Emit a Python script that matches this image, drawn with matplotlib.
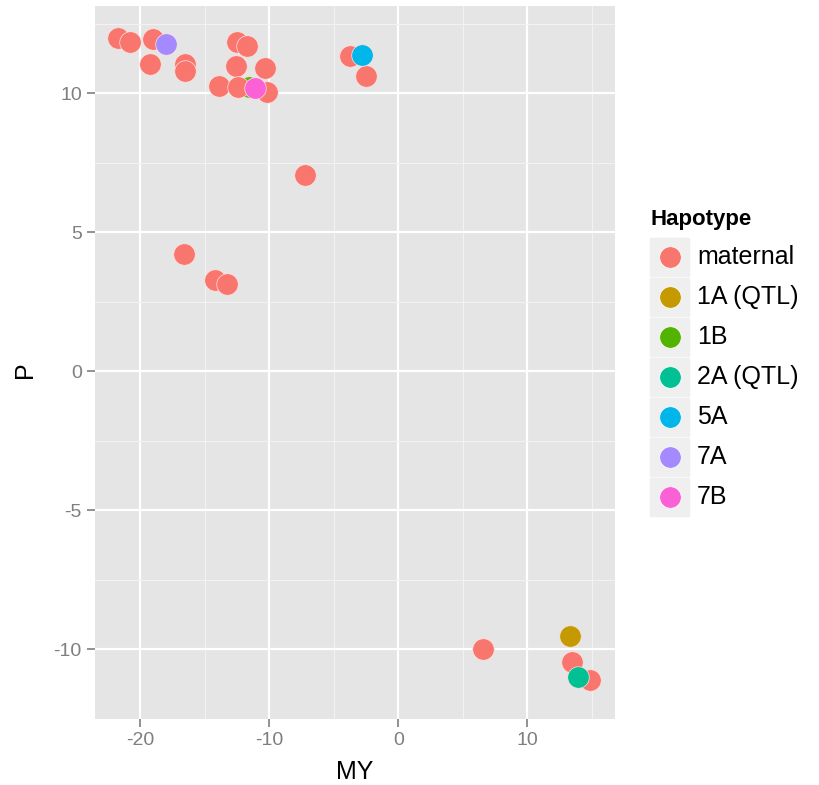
import matplotlib.pyplot as plt

plt.rcParams['font.family'] = ['Liberation Sans', 'DejaVu Sans']
plt.rcParams['axes.unicode_minus'] = False

# haplotype levels and ggplot default hue colours
levels = ['maternal', '1A (QTL)', '1B', '2A (QTL)', '5A', '7A', '7B']
colors = ['#F8766D', '#C49A00', '#53B400', '#00C094', '#00B6EB', '#A58AFF', '#FB61D7']

# points (MY, P, haplotype)
my = [-21.7, -20.8, -19.0, -19.2, -16.5, -16.5, -13.9, -12.5, -11.7, -12.6,
      -10.3, -12.4, -10.2, -3.7, -2.5, -7.2, -16.6, -14.2, -13.3,
      6.6, 13.5, 14.9,
      -11.6, 13.3, 13.9, -2.8, -18.0, -11.1]
p = [11.99, 11.83, 11.95, 11.06, 11.04, 10.82, 10.26, 11.83, 11.69, 10.98,
     10.92, 10.24, 10.05, 11.33, 10.62, 7.05, 4.21, 3.30, 3.16,
     -9.98, -10.45, -11.10,
     10.24, -9.50, -10.99, 11.37, 11.79, 10.20]
hap = ['maternal'] * 22 + ['1B', '1A (QTL)', '2A (QTL)', '5A', '7A', '7B']

fig = plt.figure(figsize=(8.19, 7.85), dpi=100)
ax = fig.add_axes([95 / 819, 1 - 719 / 785, 520 / 819, 713 / 785])
ax.set_facecolor('#E5E5E5')

ax.set_xlim(-23.5, 16.8)
ax.set_ylim(-12.32, 13.14)
ax.set_xticks([-20, -10, 0, 10])
ax.set_yticks([-10, -5, 0, 5, 10])
ax.set_xticks([-15, -5, 5, 15], minor=True)
ax.set_yticks([-12.5, -7.5, -2.5, 2.5, 7.5, 12.5], minor=True)
ax.grid(which='major', color='white', linewidth=1.6)
ax.grid(which='minor', color='#F2F2F2', linewidth=0.8)
ax.set_axisbelow(True)
for s in ax.spines.values():
    s.set_visible(False)
ax.tick_params(which='major', colors='#7F7F7F', labelsize=14, length=6, width=1.2)
ax.tick_params(which='minor', length=0)

# 1B point drawn first, it sits under the maternal / 7B points
order = ['1B', 'maternal', '1A (QTL)', '2A (QTL)', '5A', '7A', '7B']
for lev in order:
    col = colors[levels.index(lev)]
    xs = [x for x, h in zip(my, hap) if h == lev]
    ys = [y for y, h in zip(p, hap) if h == lev]
    ax.scatter(xs, ys, s=240, color=col, edgecolors='#FFE4E0', linewidths=0.5,
               zorder=3, label=lev)

ax.set_xlabel('MY', fontsize=18, labelpad=8)
fig.text(25 / 819, 1 - 370 / 785, 'P', fontsize=18, rotation=90, va='center', ha='center')

# legend
fig.text(650 / 819, 1 - 219 / 785, 'Hapotype', fontsize=16, fontweight='bold',
         va='center', ha='left')
for i, (lev, col) in enumerate(zip(levels, colors)):
    yc = 257 + 40 * i
    fig.patches.append(plt.Rectangle((650 / 819, 1 - (yc + 19) / 785), 39 / 819, 38 / 785,
                                     transform=fig.transFigure, color='#EFEFEF', zorder=1))
    fig.add_artist(plt.Line2D([670 / 819], [1 - yc / 785], marker='o', markersize=15.5,
                              color=col, markeredgecolor='#FFFFFF', markeredgewidth=0.5,
                              transform=fig.transFigure, zorder=2))
    fig.text(697 / 819, 1 - yc / 785, lev, fontsize=18, va='center', ha='left')

fig.savefig('out.png', dpi=100)
